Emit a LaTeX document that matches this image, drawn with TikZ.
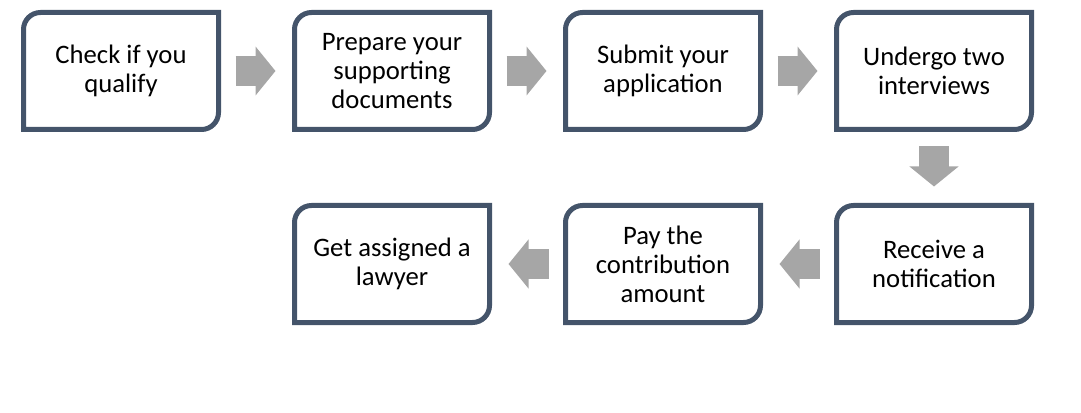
\documentclass[tikz,border=0pt]{standalone}
\usepackage{fontspec}
\setmainfont{Carlito}
\usepackage{tikz}
\usetikzlibrary{arrows.meta, positioning}
\definecolor{boxslate}{RGB}{68, 84, 106}
\definecolor{arrowgray}{RGB}{166, 166, 166}

\tikzset{
  stepbox/.style={minimum width=146.25pt, minimum height=87.75pt, inner sep=0pt, outer sep=0pt,
    align=center, font=\fontsize{20pt}{21.75pt}\selectfont},
  boxline/.style={draw=boxslate, line width=3.75pt},
  flowarrow/.style={draw=arrowgray, line width=22.5pt, shorten <=12.75pt, shorten >=14.25pt,
    -{Triangle[length=15pt, width=36pt]}}
}

\begin{document}
\begin{tikzpicture}[node distance=57pt]
  \useasboundingbox (0,0) rectangle (810.75pt,-309.75pt);

  % First row
  \node[stepbox] (check) at (90.75pt,-53.25pt) {Check if you\\qualify};
  \node[stepbox, right=of check] (prepare) {Prepare your\\supporting\\documents};
  \node[stepbox, right=of prepare] (submit) {Submit your\\application};
  \node[stepbox, right=of submit] (undergo) {Undergo two\\interviews};

  % Second row
  \node[stepbox, below=of undergo] (receive) {Receive a\\notification};
  \node[stepbox, left=of receive] (pay) {Pay the\\contribution\\amount};
  \node[stepbox, left=of pay] (lawyer) {Get assigned a\\lawyer};

  % Outlines: top-left and bottom-right corners rounded
  \foreach \n in {check, prepare, submit, undergo, receive, pay, lawyer}
    \draw[boxline] (\n.south west) -- ([yshift=-12.75pt]\n.north west)
      arc[start angle=180, end angle=90, radius=12.75pt] -- (\n.north east)
      -- ([yshift=12.75pt]\n.south east)
      arc[start angle=0, end angle=-90, radius=12.75pt] -- cycle;

  % Arrows
  \draw[flowarrow] (check) -- (prepare);
  \draw[flowarrow] (prepare) -- (submit);
  \draw[flowarrow] (submit) -- (undergo);
  \draw[flowarrow] (undergo) -- (receive);
  \draw[flowarrow] (receive) -- (pay);
  \draw[flowarrow] (pay) -- (lawyer);
\end{tikzpicture}
\end{document}
